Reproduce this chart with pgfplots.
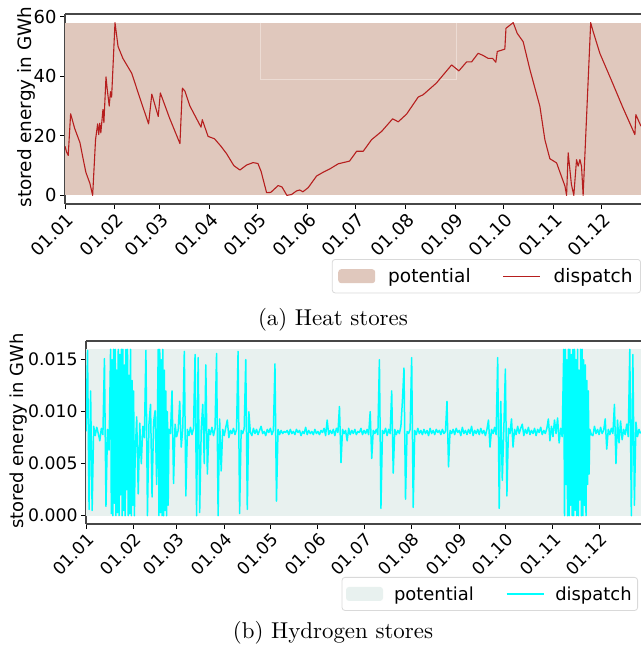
\documentclass[border=0pt]{standalone}
\usepackage{fontspec}
\newfontfamily\dejavu{DejaVu Sans}
\usepackage{pgfplots}
\pgfplotsset{compat=1.18}
\definecolor{heatfill}{RGB}{224,200,189}
\definecolor{heatrect}{RGB}{236,220,212}
\definecolor{heatline}{RGB}{182,30,30}
\definecolor{hfill}{RGB}{232,241,239}
\definecolor{hline}{RGB}{0,255,255}
\newcommand\lf{\dejavu\fontsize{18}{21}\selectfont}

\pgfplotsset{
  patchleg/.style={legend image code/.code={\fill[##1] (0bp,-7bp) rectangle (37bp,7bp);}},
  lineleg/.style={legend image code/.code={\draw[##1] (0bp,0bp) -- (37bp,0bp);}},
  base/.style={
    scale only axis, anchor=south west,
    axis x line=box, axis y line=left,
    xtick pos=bottom, ytick pos=left,
    axis line style={-, black!72, line width=1.3bp},
    tick align=outside, major tick length=5bp,
    tick style={black, line width=1bp},
    /pgf/number format/assume math mode=true,
    xtick={0,31,59,90,120,151,181,212,243,273,304,334},
    xticklabels={01.01,01.02,01.03,01.04,01.05,01.06,01.07,01.08,01.09,01.10,01.11,01.12},
    xticklabel style={rotate=45, anchor=north east, inner sep=2bp},
    legend columns=2,
    legend style={draw=black!15, rounded corners=3bp, fill=white, line width=0.8bp,
      inner ysep=7bp,
      /tikz/every even column/.append style={column sep=30bp}},
  },
}

\begin{document}
\begin{tikzpicture}
\path[use as bounding box] (0,0) rectangle (641bp,648bp);

% (a) heat stores
\begin{axis}[base, at={(65bp,444bp)}, width=576bp, height=190bp,
  ticklabel style={font=\dejavu\fontsize{18}{21}\selectfont},
  xmin=0, xmax=358.3, ymin=-2.9, ymax=60.9, ytick={0,20,40,60},
  legend style={at={(1,-0.2895)}, anchor=north east, inner xsep=6bp,
    font=\dejavu\fontsize{18.6}{21}\selectfont,
    /tikz/every odd column/.append style={column sep=11bp}}]
\addplot[fill=heatfill, draw=none, patchleg]
  coordinates {(0,0)(0,58)(358.3,58)(358.3,0)};
\addlegendentry{potential}
\draw[heatrect, line width=0.8bp] (axis cs:121.7,58) -- (axis cs:121.7,38.8) -- (axis cs:243.6,38.8) -- (axis cs:243.6,58);
\addplot[heatline, line width=1.1bp, line join=round, lineleg]
  coordinates {(0,16.5)(1,14.5)(2,13.4)(3.5,27.4)(6,22.5)(9.3,17.7)(11,13)(13,7.7)(15.5,4)(17.2,0)
  (19,18.7)(20.3,24)(21,20.4)(21.6,24.2)(22.3,21)(23.6,28.8)(24.2,24.4)(25.5,39.8)(26.3,35.5)(27.5,30)
  (28.3,34.8)(29,33)(31.1,58)(33,50)(36,46)(41.5,41)(47,32)(52,24)(54,34)(58,26.5)
  (59.3,34.4)(65,26)(71.5,17.4)(73,36)(74.6,35)(77.7,30)(84.6,22.9)(85.4,25.4)(89,19.8)(93,19)
  (97,16.5)(100.5,14)(105,10)(108.8,8.5)(113,10.2)(117,11)(120,10.7)(122,8)(125.4,0.9)(128,1)
  (132.6,3.3)(135,2.8)(138,0)(141,0.3)(144,1.5)(146,1.8)(148,1.2)(151.3,2.6)(156.5,6.5)(160.7,7.8)
  (164.8,8.9)(170,10.6)(177,11.5)(181.4,14.8)(185.5,14.8)(190.7,18.7)(197,21.5)(203.8,25.7)(207.3,24.7)(212.5,27.3)
  (219.7,33)(222.8,33.8)(231,37.7)(240.5,43.8)(245,41.8)(249.8,44.8)(252.9,44.8)(257,47.7)(260,47)(263.2,46)
  (266,46)(268,44.7)(268.9,48.3)(273.6,49.1)(274.3,56.1)(278.8,58)(281.3,54.4)(285,51.6)(289.2,42.2)(295.4,29.9)
  (298.5,18.7)(301.6,12.3)(305.8,10.9)(311,3.1)(312,0)(313,14.3)(315,3.7)(316.5,0)(318.2,12)(319.2,9.8)
  (320.3,12)(321.3,9.8)(322.3,0)(327,58)(328.2,55.6)(332.7,47.7)(340,38.5)(347,29.5)(354.5,20.4)(355.1,27.1)
  (358.3,23.2)};
\addlegendentry{dispatch}
\end{axis}
\node[rotate=90, font=\dejavu\fontsize{18.5}{21}\selectfont] at (26bp,541bp) {stored energy in GWh};
\node at (333bp,328bp) {\scalebox{2.3}{\fontsize{10}{12}\selectfont (a) Heat stores}};

% (b) hydrogen stores
\begin{axis}[base, at={(86bp,124bp)}, width=555bp, height=183bp,
  ticklabel style={font=\dejavu\fontsize{17.3}{21}\selectfont},
  xmin=0, xmax=361.3, ymin=-0.0008, ymax=0.0168,
  ytick={0,0.005,0.010,0.015}, scaled y ticks=false,
  yticklabel style={/pgf/number format/fixed, /pgf/number format/precision=3,
    /pgf/number format/fixed zerofill},
  legend style={at={(1,-0.2896)}, anchor=north east, xshift=-3bp, inner xsep=4bp,
    font=\dejavu\fontsize{18}{21}\selectfont,
    /tikz/every odd column/.append style={column sep=9bp}}]
\addplot[fill=hfill, draw=none, patchleg]
  coordinates {(0,0)(0,0.016)(361.3,0.016)(361.3,0)};
\addlegendentry{potential}
\addplot[hline, line width=1.5bp, line join=round, lineleg]
  coordinates {
  (0,0.0081)(1,0.0159)(2,0.0006)(3,0.0120)(4,0.0005)(5,0.0086)(6,0.0077)(7,0.0085)(8,0.0079)(9,0.0072)
  (10,0.0084)(11,0.0078)(12,0.0151)(13,0.0009)(14,0.0083)(15,0.0063)
  (16,0.0160)(16.5,0.0002)(17,0.0150)(17.5,0.0000)(18,0.0160)(18.5,0.0012)(19,0.0160)(19.5,0.0000)
  (20,0.0140)(20.5,0.0003)(21,0.0160)(21.5,0.0000)(22,0.0155)(22.5,0.0020)(23,0.0160)(23.5,0.0000)
  (24,0.0160)(24.5,0.0005)(25,0.0145)(25.5,0.0000)(26,0.0160)(26.5,0.0025)(27,0.0160)(27.5,0.0000)
  (28,0.0135)(28.5,0.0002)(29,0.0160)(29.5,0.0000)(30,0.0130)(30.5,0.0010)(31,0.0120)(31.5,0.0000)
  (32,0.0058)(33,0.0095)(34,0.0021)(35,0.0089)(36,0.0050)(37,0.0086)(38,0.0075)(39,0.0159)
  (40,0.0000)(41,0.0088)(42,0.0107)(43,0.0018)(44,0.0090)(45,0.0101)(46,0.0030)
  (47,0.0160)(47.5,0.0000)(48,0.0160)(48.5,0.0003)(49,0.0150)(49.5,0.0000)(50,0.0160)(50.5,0.0000)
  (51,0.0140)(51.5,0.0005)(52,0.0120)(52.5,0.0000)(53,0.0100)(53.5,0.0010)
  (54,0.0083)(55,0.0079)(56,0.0120)(57,0.0031)(58,0.0088)(59,0.0076)
  (60,0.0082)(61,0.0110)(62,0.0066)(63,0.0084)(64,0.0158)(65,0.0019)(66,0.0083)(67,0.0077)(68,0.0085)(69,0.0078)
  (70,0.0084)(71,0.0155)(72,0.0000)(73,0.0152)(74,0.0003)(75,0.0082)(76,0.0107)(77,0.0050)(78,0.0145)(79,0.0040)
  (80,0.0083)(81,0.0078)(82,0.0085)(83,0.0077)(84,0.0084)(85,0.0156)(86,0.0000)(87,0.0093)(88,0.0043)(89,0.0083)
  (90,0.0077)(91,0.0085)(92,0.0092)(93,0.0075)(94,0.0082)(95,0.0079)(96,0.0084)(97,0.0078)(98,0.0083)(99,0.0158)
  (100,0.0002)(101,0.0082)(102,0.0079)(103,0.0084)(104,0.0150)(105,0.0006)(106,0.0100)(107,0.0080)(108,0.0077)(109,0.0084)
  (110,0.0079)(111,0.0083)(112,0.0078)(113,0.0082)(114,0.0086)(115,0.0079)(116,0.0081)(117,0.0077)(118,0.0083)(119,0.0080)
  (120,0.0084)(121,0.0078)(122,0.0082)(123,0.0146)(124,0.0014)(125,0.0083)(126,0.0078)(127,0.0082)(128,0.0079)(129,0.0081)
  (130,0.0080)(131,0.0082)(132,0.0078)(133,0.0083)(134,0.0079)(135,0.0081)(136,0.0078)(137,0.0083)(138,0.0080)(139,0.0082)
  (140,0.0077)(141,0.0081)(142,0.0079)(143,0.0085)(144,0.0078)(145,0.0082)(146,0.0079)(147,0.0081)(148,0.0078)(149,0.0083)
  (150,0.0079)(151,0.0081)(152,0.0078)(153,0.0082)(154,0.0080)(155,0.0084)(156,0.0077)(157,0.0092)(158,0.0078)(159,0.0082)
  (160,0.0079)(161,0.0083)(162,0.0077)(163,0.0084)(164,0.0080)(165,0.0105)(166,0.0051)(167,0.0083)(168,0.0079)(169,0.0082)
  (170,0.0072)(171,0.0084)(172,0.0078)(173,0.0082)(174,0.0079)(175,0.0083)(176,0.0078)(177,0.0081)(178,0.0080)(179,0.0084)
  (180,0.0078)(181,0.0082)(182,0.0079)(183,0.0083)(184,0.0078)(185,0.0100)(186,0.0055)(187,0.0082)(188,0.0079)(189,0.0083)
  (190,0.0078)(191,0.0150)(192,0.0007)(193,0.0082)(194,0.0079)(195,0.0084)(196,0.0077)(197,0.0083)(198,0.0079)(199,0.0120)
  (200,0.0041)(201,0.0083)(202,0.0078)(203,0.0082)(204,0.0079)(205,0.0086)(206,0.0111)(207,0.0142)(208,0.0016)(209,0.0081)
  (210,0.0079)(211,0.0083)(212,0.0152)(213,0.0008)(214,0.0082)(215,0.0078)(216,0.0084)(217,0.0079)(218,0.0082)(219,0.0078)
  (220,0.0083)(221,0.0079)(222,0.0082)(223,0.0077)(224,0.0084)(225,0.0079)(226,0.0082)(227,0.0078)(228,0.0083)(229,0.0080)
  (230,0.0082)(231,0.0078)(232,0.0083)(233,0.0079)(234,0.0081)(235,0.0110)(236,0.0047)(237,0.0082)(238,0.0079)(239,0.0083)
  (240,0.0078)(241,0.0084)(242,0.0080)(243,0.0082)(244,0.0077)(245,0.0085)(246,0.0079)(247,0.0082)(248,0.0078)(249,0.0083)
  (250,0.0079)(251,0.0086)(252,0.0077)(253,0.0082)(254,0.0079)(255,0.0083)(256,0.0078)(257,0.0084)(258,0.0079)(259,0.0082)
  (260,0.0077)(261,0.0083)(262,0.0092)(263,0.0066)(264,0.0083)(265,0.0079)(266,0.0085)(267,0.0078)(268,0.0152)(269,0.0007)
  (270,0.0110)(271,0.0034)(272,0.0083)(273,0.0141)(274,0.0019)(275,0.0084)(276,0.0079)(277,0.0093)(278,0.0066)(279,0.0083)
  (280,0.0078)(281,0.0086)(282,0.0079)(283,0.0084)(284,0.0088)(285,0.0077)(286,0.0083)(287,0.0079)(288,0.0085)(289,0.0078)
  (290,0.0082)(291,0.0079)(292,0.0084)(293,0.0077)(294,0.0083)(295,0.0080)(296,0.0085)(297,0.0078)(298,0.0082)(299,0.0079)
  (300,0.0084)(301,0.0093)(302,0.0072)(303,0.0086)(304,0.0076)(305,0.0092)(306,0.0079)(307,0.0094)(308,0.0070)(309,0.0084)
  (310,0.0076)(311,0.0160)(311.5,0.0000)(312,0.0160)(312.5,0.0030)(313,0.0150)(313.5,0.0000)(314,0.0160)(314.5,0.0000)
  (315,0.0160)(315.5,0.0010)(316,0.0155)(316.5,0.0000)(317,0.0160)(317.5,0.0000)(318,0.0160)(318.5,0.0005)
  (319,0.0150)(319.5,0.0000)(320,0.0160)(320.5,0.0000)(321,0.0140)(321.5,0.0015)(322,0.0160)(322.5,0.0000)
  (323,0.0160)(323.5,0.0000)(324,0.0150)(324.5,0.0010)(325,0.0145)(325.5,0.0000)(326,0.0130)(326.5,0.0030)
  (327,0.0120)(327.5,0.0040)(328,0.0083)(329,0.0078)
  (330,0.0077)(331,0.0086)(332,0.0079)(333,0.0083)(334,0.0078)(335,0.0085)(336,0.0079)(337,0.0082)(338,0.0093)(339,0.0064)
  (340,0.0083)(341,0.0078)(342,0.0084)(343,0.0079)(344,0.0107)(345,0.0050)(346,0.0092)(347,0.0070)(348,0.0091)(349,0.0073)
  (350,0.0083)(351,0.0078)(352,0.0088)(353,0.0076)(354,0.0160)(355,0.0000)(356,0.0155)(357,0.0010)(358,0.0090)(359,0.0076)
  (360,0.0083)(361,0.0079)};
\addlegendentry{dispatch}
\end{axis}
\node[rotate=90, font=\lf] at (19bp,217bp) {stored energy in GWh};
\node at (333bp,15bp) {\scalebox{2.3}{\fontsize{10}{12}\selectfont (b) Hydrogen stores}};
\end{tikzpicture}
\end{document}
